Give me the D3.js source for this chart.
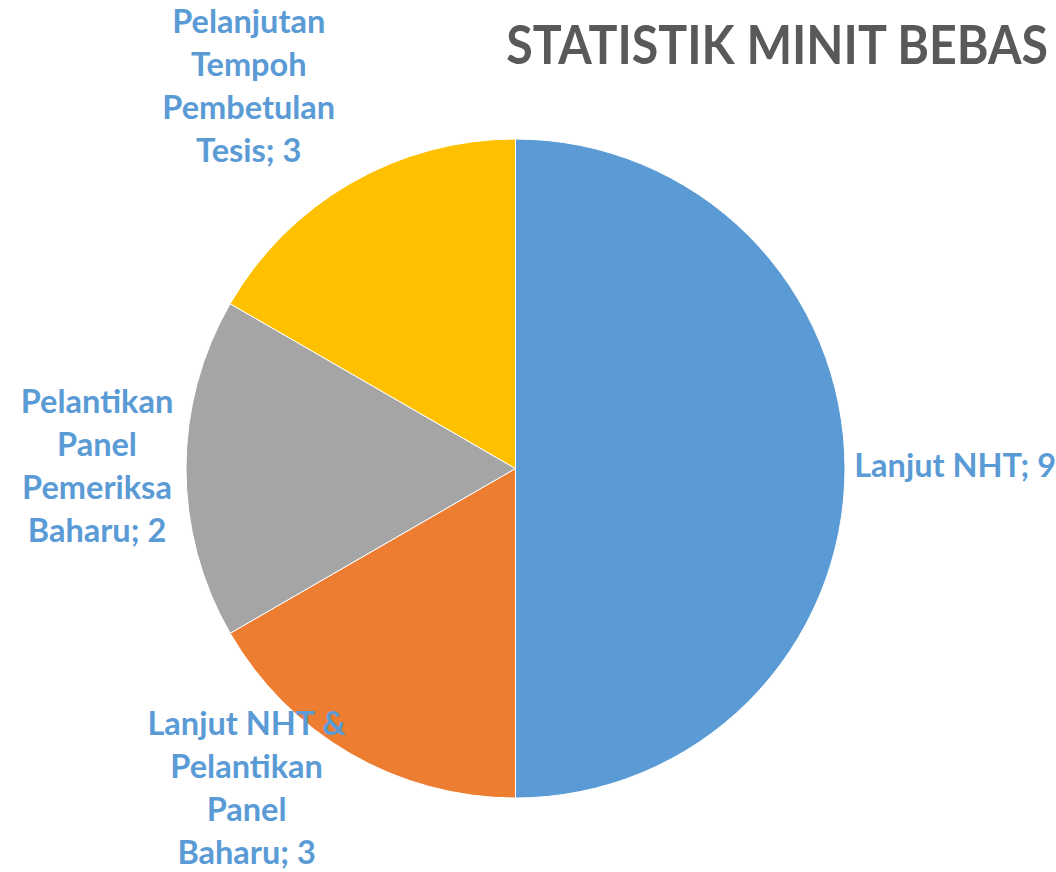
<!DOCTYPE html>
<html>
<head>
<meta charset="utf-8">
<title>Statistik Minit Bebas</title>
<script src="https://d3js.org/d3.v7.min.js"></script>
<style>
    body { margin: 0; background: #fff; }
    svg { display: block; }
    .title { font-family: Lato, "Open Sans", sans-serif; font-weight: 700; fill: #595959; }
    .lbl { font-family: Lato, "Open Sans", sans-serif; font-weight: 700; fill: #5B9BD5; }
</style>
</head>
<body>
<svg id="chart"></svg>
<script>
// data
const categories = [
    "Lanjut NHT",
    "Lanjut NHT & Pelantikan Panel Baharu",
    "Pelantikan Panel Pemeriksa Baharu",
    "Pelanjutan Tempoh Pembetulan Tesis"
];
const values = [9, 3, 3, 3];
// value text printed in the data labels (as shown on the chart)
const shownValues = [9, 3, 2, 3];
// how each label wraps
const labelLines = [
    ["Lanjut NHT; 9"],
    ["Lanjut NHT &", "Pelantikan", "Panel", "Baharu; 3"],
    ["Pelantikan", "Panel", "Pemeriksa", "Baharu; 2"],
    ["Pelanjutan", "Tempoh", "Pembetulan", "Tesis; 3"]
];
const colors = ["#5B9BD5", "#ED7D31", "#A5A5A5", "#FFC000"];

const width = 1056, height = 872;
const cx = 515.5, cy = 468.5, radius = 329.5;
const fontSize = 32.5, lineH = 43;
const wrapWidth = 194; // wrapped labels sit in a fixed-width box

const svg = d3.select("#chart").attr("width", width).attr("height", height);

// title, squeezed horizontally to the width of the original
const title = svg.append("text")
    .attr("class", "title")
    .attr("text-anchor", "end")
    .style("font-size", "54px")
    .text("STATISTIK MINIT BEBAS");
const titleScale = 542 / title.node().getComputedTextLength();
title.attr("transform", `translate(1048,64) scale(${titleScale},1)`);

const pie = d3.pie().sort(null).value(d => d)(values);
const arc = d3.arc().innerRadius(0).outerRadius(radius);

const g = svg.append("g").attr("transform", `translate(${cx},${cy})`);

g.selectAll("path")
    .data(pie)
    .join("path")
    .attr("d", arc)
    .attr("fill", (d, i) => colors[i])
    .attr("stroke", "#fff")
    .attr("stroke-width", 1);

// data labels: text block placed just outside the slice, kept inside the chart
const labels = svg.append("g");
pie.forEach((d, i) => {
    const lines = labelLines[i];
    const t = labels.append("text")
        .attr("class", "lbl")
        .attr("text-anchor", "middle")
        .style("font-size", fontSize + "px");
    lines.forEach((s, k) => {
        t.append("tspan").attr("x", 0).attr("y", k * lineH).text(s);
    });
    let w = d3.max(t.selectAll("tspan").nodes(), n => n.getComputedTextLength());
    if (lines.length > 1) w = Math.max(w, wrapWidth);
    const h = lines.length * lineH;

    const mid = (d.startAngle + d.endAngle) / 2;
    const dx = Math.sin(mid), dy = -Math.cos(mid);
    const ax = cx + dx * (radius + 10);
    const ay = cy + dy * (radius + 10);
    const sx = Math.abs(dx) < 0.1 ? 0 : Math.sign(dx);
    const sy = Math.abs(dy) < 0.1 ? 0 : Math.sign(dy);
    let bx = ax + sx * w / 2;
    let by = ay + sy * h / 2;
    bx = Math.max(w / 2, Math.min(width - w / 2, bx));
    by = Math.max(h / 2 - 4, Math.min(height - h / 2 + 5, by));
    t.attr("transform", `translate(${bx},${by - h / 2 + lineH * 0.7})`);
});
</script>
</body>
</html>
